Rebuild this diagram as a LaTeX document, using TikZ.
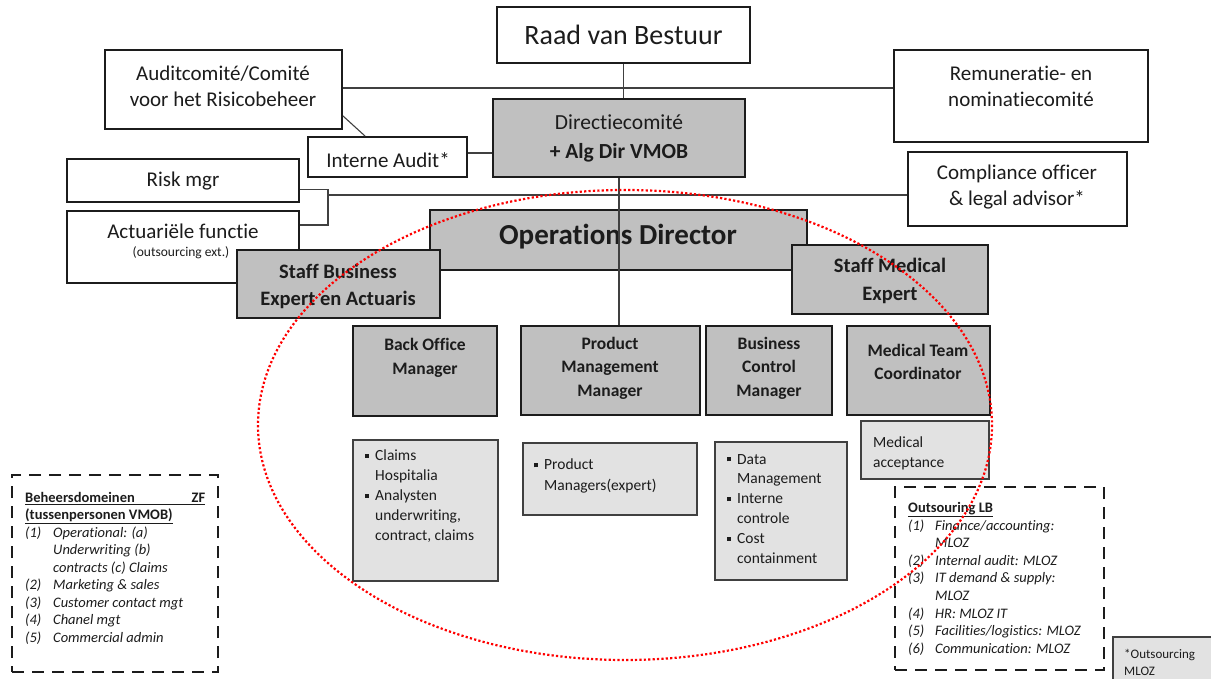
\documentclass[tikz,border=0pt]{standalone}
\usepackage{fontspec}
\usepackage{array}
\setmainfont{Carlito}[RawFeature={-liga}]
\usetikzlibrary{fit}
\definecolor{graybox}{RGB}{192,192,192}
\definecolor{lightdot}{RGB}{226,226,226}
\definecolor{ink}{RGB}{28,28,28}
\newcommand\fsz[2]{\fontsize{#1}{#2}\selectfont}
\newcommand\sqb{\raisebox{0.35ex}{\rule{4pt}{4pt}}}
\begin{document}
\begin{tikzpicture}[x=1pt,y=-1pt,
  box/.style={draw=ink, line width=1.8pt, fill=white, inner sep=0pt},
  gbox/.style={box, fill=graybox},
  lbox/.style={draw=black!75, line width=1.1pt, fill=lightdot, inner sep=0pt},
  conn/.style={draw=black!75, line width=1.1pt},
  dbox/.style={draw=ink, line width=2.6pt, dash pattern=on 12pt off 8pt},
  txt/.style={inner sep=0pt, align=center, text=ink, font=\fsz{21}{26}},
  btxt/.style={txt, font=\bfseries\fsz{17.5}{23.5}},
  ltxt/.style={inner sep=0pt, anchor=north west, text=ink},
  oval/.style={draw=red, line width=2.2pt, dash pattern=on 2.2pt off 2.2pt},
]
\useasboundingbox (0,0) rectangle (1211,679);
\fill[white] (0,0) rectangle (1211,679);

% top level boxes
\node[box, fit={(497,7) (750,63)}] (raad) {};
\node[txt, font=\fsz{28}{33}] (raadT) at (raad.center) {Raad van Bestuur};
\node[box, fit={(105,50) (342,129)}] (audit) {};
\node[box, fit={(894,50) (1148,142)}] (rem) {};
\node[box, fit={(308,137) (467,177)}] (ia) {};
\node[box, fit={(67,159) (299,202)}] (risk) {};
\node[box, fit={(67,211) (299,283)}] (act) {};
\node[box, fit={(908,152) (1127,226)}] (comp) {};
\coordinate (brk) at (328,195);

% connectors behind
\draw[conn] (raad.south) -- (raad.south |- audit.east);
\draw[conn] ([yshift=1.5pt]audit.east) -- ([yshift=1.5pt]audit.east -| rem.west);
\draw[conn] ([yshift=14pt]audit.south east) -- ([xshift=58pt]ia.north west);
\draw[conn] ([yshift=4pt]ia.east) -- ([yshift=4pt]ia.east -| 493,0);
\draw[conn] ([yshift=-9pt]risk.east) -| (brk) |- ([yshift=22pt]act.east);
\draw[conn] (brk) -- (brk -| comp.west);

\node[gbox, fit={(493,99) (745,177)}] (dir) {};
\draw[conn] (raad.south) -- (raad.south |- dir.north);

\node[txt] (auditT) at (223,86) {Auditcomité/Comité\\voor het Risicobeheer};
\node[txt] (remT) at (1021,86) {Remuneratie- en\\nominatiecomité};
\node[txt, font=\fsz{21.5}{29}] (dirT) at (619,138) {Directiecomité\\\textbf{+ Alg Dir VMOB}};
\node[txt] (iaT) at (388,160) {Interne Audit*};
\node[txt] (riskT) at (183,181) {Risk mgr};
\node[txt] (actT) at (183,231) {Actuariële functie};
\node[txt, font=\fsz{13.5}{15}] (actS) at (181,253) {(outsourcing ext.)};
\node[txt] (compT) at (1017,187) {Compliance officer\\\& legal advisor*};

% operations level
\node[gbox, fit={(430,210) (807,270)}] (ops) {};
\node[txt, font=\bfseries\fsz{29}{34}] (opsT) at (618,237) {Operations Director};

\node[gbox, fit={(521,326) (700,415)}] (pm) {};
\draw[conn] (dir.south) -- (dir.south |- pm.north);

\node[gbox, fit={(237,250) (440,318)}] (sbe) {};
\node[txt, font=\bfseries\fsz{20.5}{27}] (sbeT) at (338,286) {Staff Business\\Expert en Actuaris};
\node[gbox, fit={(792,245) (988,314)}] (sme) {};
\node[txt, font=\bfseries\fsz{20.5}{28}] (smeT) at (890,281) {Staff Medical\\Expert};

\node[gbox, fit={(353,326) (497,416)}] (bom) {};
\node[btxt] (bomT) at (425,358) {Back Office\\Manager};
\node[btxt] (pmT) at (610,368) {Product\\Management\\Manager};
\node[gbox, fit={(706,326) (832,415)}] (bc) {};
\node[btxt] (bcT) at (769,368) {Business\\Control\\Manager};
\node[gbox, fit={(847,326) (990,415)}] (mtc) {};
\node[btxt] (mtcT) at (918,362) {Medical Team\\Coordinator};

% lists
\node[lbox, fit={(353,440) (498,581)}] (bol) {};
\node[ltxt, font=\fsz{15.5}{20}] (bolT) at (365,446) {\begin{tabular}{@{}l@{\hspace{6pt}}l@{}}\sqb & Claims\\ & Hospitalia\\ \sqb & Analysten\\ & underwriting,\\ & contract, claims\end{tabular}};
\node[lbox, fit={(523,443) (697,515)}] (pml) {};
\node[ltxt, font=\fsz{15.5}{21}] (pmlT) at (534,455) {\begin{tabular}{@{}l@{\hspace{6pt}}l@{}}\sqb & Product\\ & Managers(expert)\end{tabular}};
\node[lbox, fit={(715,442) (847,580)}] (bcl) {};
\node[ltxt, font=\fsz{15.5}{19.8}] (bclT) at (727,450) {\begin{tabular}{@{}l@{\hspace{6pt}}l@{}}\sqb & Data\\ & Management\\ \sqb & Interne\\ & controle\\ \sqb & Cost\\ & containment\end{tabular}};
\node[lbox, fit={(861,421) (989,479)}] (mac) {};
\node[ltxt, font=\fsz{15.5}{20}] (macT) at (873,433) {\begin{tabular}{@{}l@{}}Medical\\acceptance\end{tabular}};
\node[lbox, fit={(1113,637) (1216,684)}] (omz) {};
\node[ltxt, font=\fsz{13}{17}] (omzT) at (1124,646) {\begin{tabular}{@{}l@{}}*Outsourcing\\MLOZ\end{tabular}};

% legends
\node[dbox, fit={(12,475) (218,672)}, inner sep=0pt] (legL) {};
\node[ltxt, font=\fsz{14.5}{17.5}] (legLT) at (25,490) {\begin{tabular}{@{}>{\itshape}p{28pt}@{}>{\itshape}l@{}}
\multicolumn{2}{@{}l@{}}{\normalfont\bfseries\underline{\makebox[180pt][l]{Beheersdomeinen\hfill ZF}}}\\
\multicolumn{2}{@{}l@{}}{\normalfont\bfseries\underline{(tussenpersonen VMOB)}}\\
(1) & Operational: (a)\\
 & Underwriting (b)\\
 & contracts (c) Claims\\
(2) & Marketing \& sales\\
(3) & Customer contact mgt\\
(4) & Chanel mgt\\
(5) & Commercial admin
\end{tabular}};
\node[dbox, fit={(895,487) (1104,670)}, inner sep=0pt] (legR) {};
\node[ltxt, font=\fsz{14.5}{17.6}] (legRT) at (908,500) {\begin{tabular}{@{}>{\itshape}p{27pt}@{}>{\itshape}l@{}}
\multicolumn{2}{@{}l@{}}{\normalfont\bfseries\underline{Outsouring LB}}\\
(1) & Finance/accounting:\\
 & MLOZ\\
(2) & Internal audit: MLOZ\\
(3) & IT demand \& supply:\\
 & MLOZ\\
(4) & HR: MLOZ IT\\
(5) & Facilities/logistics: MLOZ\\
(6) & Communication: MLOZ
\end{tabular}};

% red dotted oval
\draw[oval] (625,425) ellipse [x radius=367, y radius=235];
\end{tikzpicture}
\end{document}
